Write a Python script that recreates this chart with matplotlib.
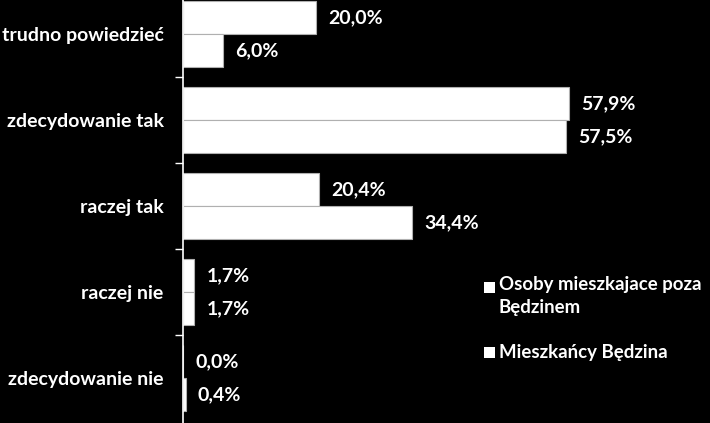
import matplotlib
matplotlib.use("Agg")
import matplotlib.pyplot as plt
from matplotlib.patches import Rectangle
import numpy as np

categories = ["trudno powiedzieć", "zdecydowanie tak", "raczej tak", "raczej nie", "zdecydowanie nie"]
series_names = ["Osoby mieszkajace poza\nBędzinem", "Mieszkańcy Będzina"]
outside = [20.0, 57.9, 20.4, 1.7, 0.0]
residents = [6.0, 57.5, 34.4, 1.7, 0.4]

plt.rcParams['font.family'] = ['Lato', 'DejaVu Sans']
FS = 14
LFS = 13.4
W, H = 710, 423

fig = plt.figure(figsize=(7.10, 4.23), dpi=100, facecolor='black')
ax = fig.add_axes([183/W, 0, 527/W, 1], facecolor='black')

y = np.arange(len(categories))
h = 0.384
ax.barh(y - h/2, outside, height=h, color='white', edgecolor='#b0b0b0', linewidth=0.8)
ax.barh(y + h/2, residents, height=h, color='white', edgecolor='#b0b0b0', linewidth=0.8)

def fmt(v):
    return f"{v:.1f}%".replace('.', ',')

for yi, v in zip(y, outside):
    ax.annotate(fmt(v), (v, yi - h/2), xytext=(12, 0), textcoords='offset pixels',
                va='center', ha='left', color='white', fontsize=FS, fontweight='bold')
for yi, v in zip(y, residents):
    ax.annotate(fmt(v), (v, yi + h/2), xytext=(12, 0), textcoords='offset pixels',
                va='center', ha='left', color='white', fontsize=FS, fontweight='bold')

ax.set_xlim(0, 527/6.667)
ax.set_ylim(4 + 45/86, -34/86)

ax.set_yticks(y)
ax.set_yticklabels(categories, color='white', fontsize=FS, fontweight='bold')
ax.tick_params(axis='y', length=0, pad=14)
ax.set_yticks(np.arange(len(categories) - 1) + 0.5, minor=True)
ax.tick_params(axis='y', which='minor', length=6, color='white', width=1)
ax.set_xticks([])

for s in ['top', 'right', 'bottom']:
    ax.spines[s].set_visible(False)
ax.spines['left'].set_color('white')
ax.spines['left'].set_linewidth(1.2)

# legend (drawn manually so the marker aligns with the first line of the label)
sq = 11
for label, cy in zip(series_names, [287, 352]):
    fig.add_artist(Rectangle((484/W, 1 - (cy + sq/2)/H), sq/W, sq/H,
                             transform=fig.transFigure, facecolor='white', edgecolor='none'))
fig.text(499/W, 1 - 276/H, series_names[0], va='top', ha='left', color='white',
         fontsize=LFS, fontweight='bold', linespacing=1.45)
fig.text(499/W, 1 - 352/H, series_names[1], va='center', ha='left', color='white',
         fontsize=LFS, fontweight='bold')

fig.savefig('out.png', dpi=100, facecolor='black')
